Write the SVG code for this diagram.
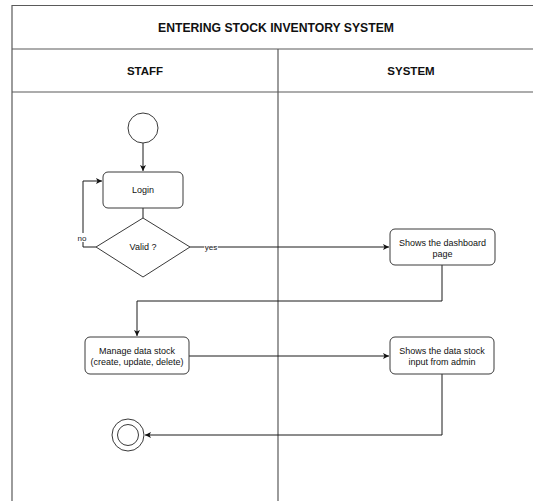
<svg xmlns="http://www.w3.org/2000/svg" width="533" height="501" viewBox="0 0 533 501">
<style>
.frame{fill:none;stroke:#5a5a5a;stroke-width:1.2}
.node{fill:#fff;stroke:#3a3a3a;stroke-width:1}
.conn{fill:none;stroke:#1a1a1a;stroke-width:1}
.hdr{font-family:"Liberation Sans",Arial,sans-serif;font-size:11.5px;font-weight:bold;fill:#111;text-anchor:middle}
.title{font-size:12.2px}
.lbl{font-family:"Liberation Sans",Arial,sans-serif;font-size:9px;fill:#111;text-anchor:middle}
.small{font-family:"Liberation Sans",Arial,sans-serif;font-size:8px;fill:#222;text-anchor:middle}
</style>
<defs>
<marker id="arr" markerWidth="7" markerHeight="7" refX="6" refY="3.5" orient="auto" markerUnits="userSpaceOnUse">
<path d="M0,0.5 L6,3.5 L0,6.5 L1.5,3.5 Z" fill="#111"/>
</marker>
</defs>
<rect width="533" height="501" fill="#fff"/>
<g id="pool">
<path class="frame" d="M533,5.5 H12 V501"/>
<path class="frame" d="M12,49 H533 M12,92 H533 M278,49 V501"/>
<text class="hdr title" x="276" y="31.5">ENTERING STOCK INVENTORY SYSTEM</text>
<text class="hdr" x="145" y="75">STAFF</text>
<text class="hdr" x="411" y="75">SYSTEM</text>
</g>
<g id="connectors">
<path class="conn" d="M143,143 V171" marker-end="url(#arr)"/>
<path class="conn" d="M143,208 V218"/>
<path class="conn" d="M96,247 H83 V181 H102" marker-end="url(#arr)"/>
<path class="conn" d="M190,247 H389" marker-end="url(#arr)"/>
<path class="conn" d="M442,265 V301 H137 V336" marker-end="url(#arr)"/>
<path class="conn" d="M189,356 H389" marker-end="url(#arr)"/>
<path class="conn" d="M442,374 V435 H145" marker-end="url(#arr)"/>
<rect x="77" y="233" width="11" height="9" fill="#fff"/>
<text class="small" x="82" y="240.5">no</text>
<rect x="204" y="243" width="14" height="8" fill="#fff" opacity="0.8"/>
<text class="small" x="211" y="250">yes</text>
</g>
<g id="start"><circle class="node" cx="143" cy="128" r="15"/></g>
<g id="login">
<rect class="node" x="103" y="172" width="80" height="36" rx="5"/>
<text class="lbl" x="143" y="193">Login</text>
</g>
<g id="valid">
<polygon class="node" points="143,218 190,247 143,277 96,247"/>
<text class="lbl" x="143" y="250">Valid ?</text>
</g>
<g id="dashboard">
<rect class="node" x="390" y="229" width="105" height="36" rx="5"/>
<text class="lbl" x="442.5" y="246">Shows the dashboard</text>
<text class="lbl" x="442.5" y="257">page</text>
</g>
<g id="manage">
<rect class="node" x="85" y="337" width="104" height="37" rx="5"/>
<text class="lbl" x="137" y="354">Manage data stock</text>
<text class="lbl" x="137" y="365">(create, update, delete)</text>
</g>
<g id="showstock">
<rect class="node" x="390" y="337" width="104" height="37" rx="5"/>
<text class="lbl" x="442" y="354">Shows the data stock</text>
<text class="lbl" x="442" y="365">input from admin</text>
</g>
<g id="end">
<circle class="node" cx="128" cy="435" r="16"/>
<circle class="node" cx="128" cy="435" r="10.5"/>
</g>
</svg>
